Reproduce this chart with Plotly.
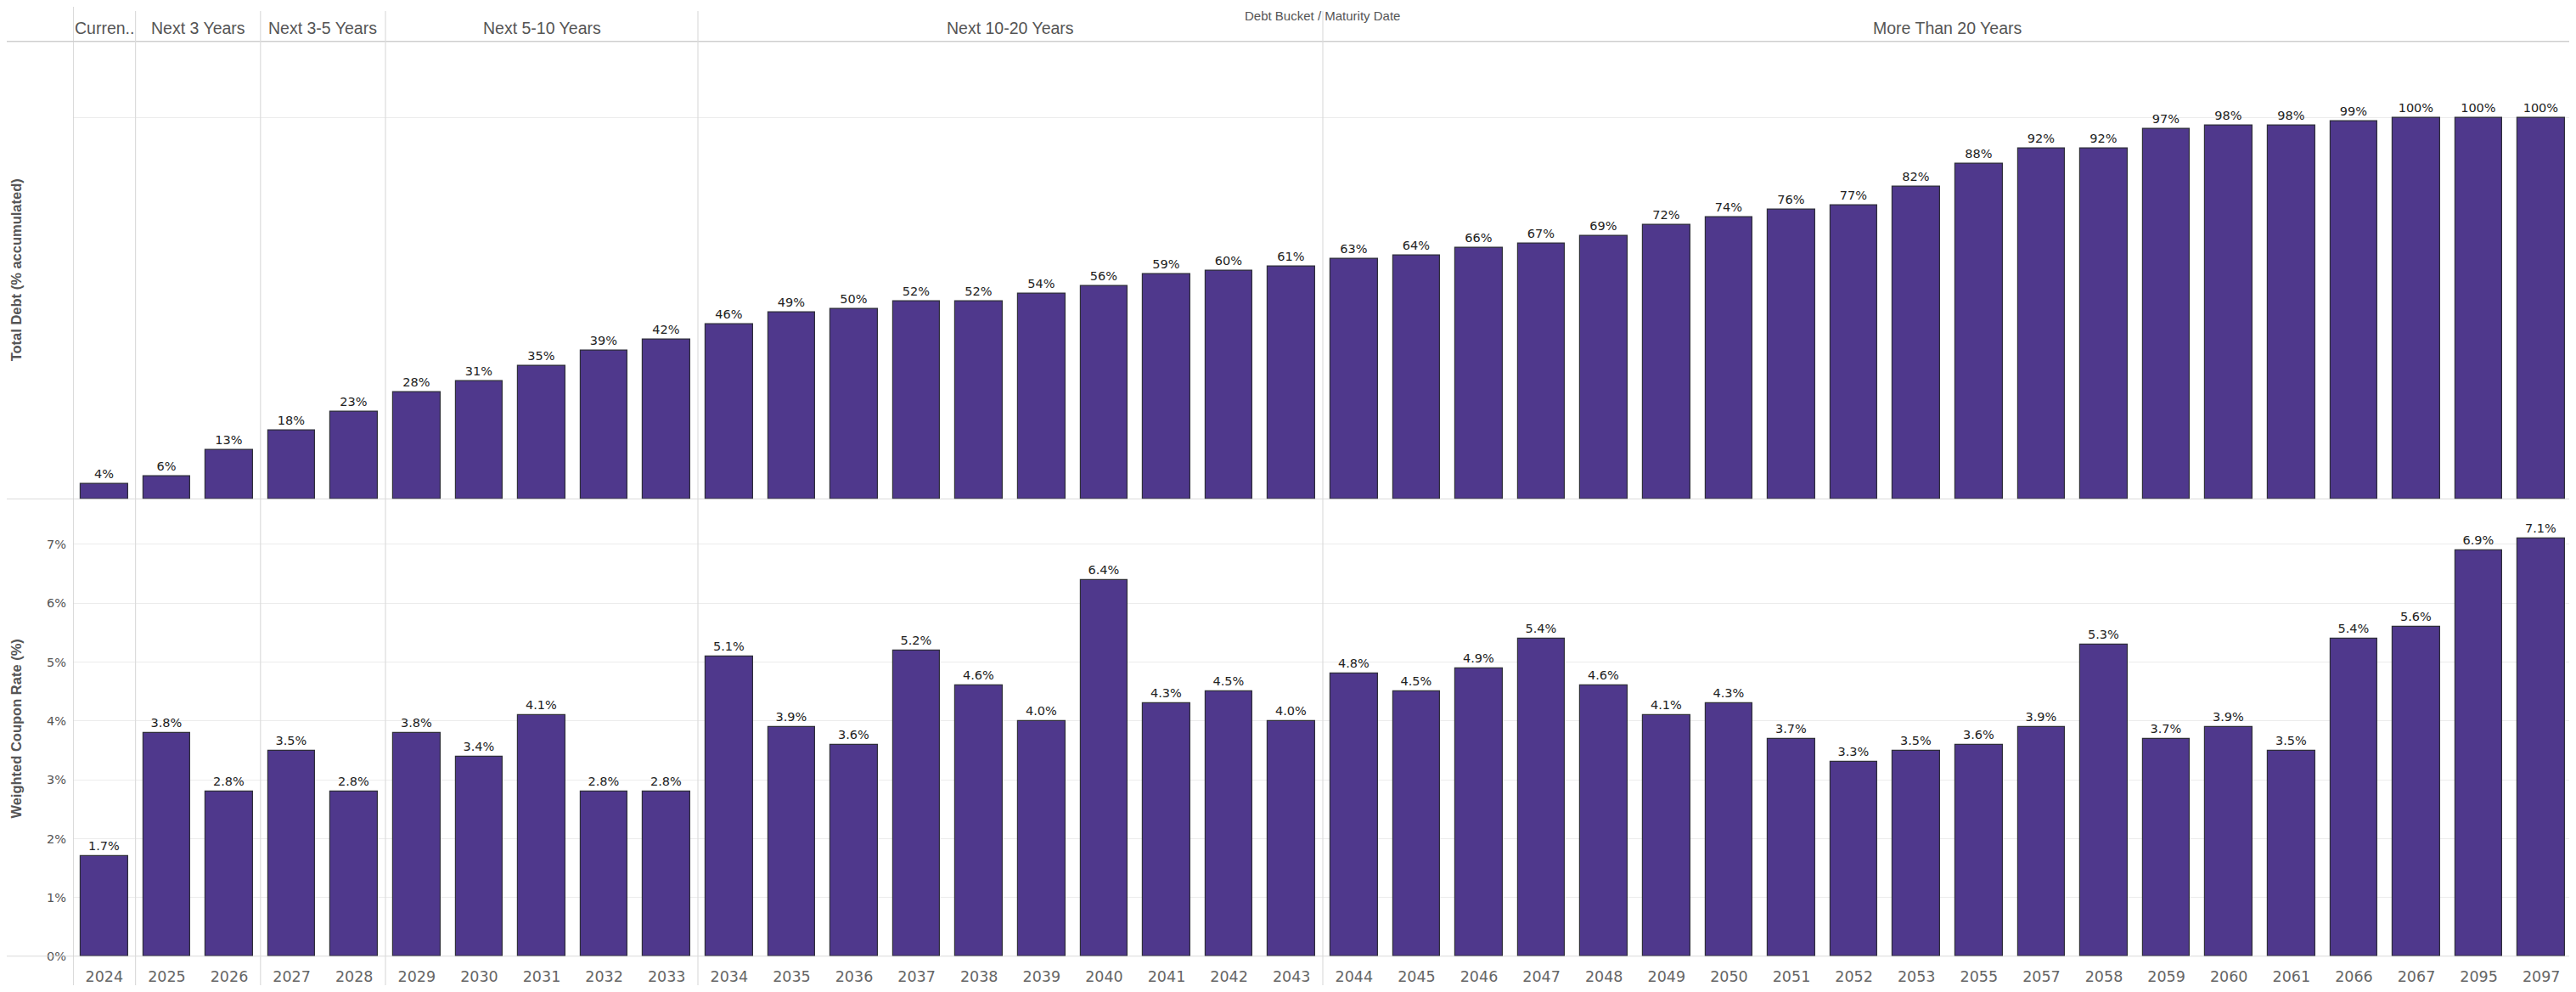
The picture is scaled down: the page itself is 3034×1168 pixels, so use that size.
import plotly.graph_objects as go

# ---------------- data ----------------
years = ["2024", "2025", "2026", "2027", "2028", "2029", "2030", "2031", "2032", "2033",
         "2034", "2035", "2036", "2037", "2038", "2039", "2040", "2041", "2042", "2043",
         "2044", "2045", "2046", "2047", "2048", "2049", "2050", "2051", "2052", "2053",
         "2055", "2057", "2058", "2059", "2060", "2061", "2066", "2067", "2095", "2097"]

total_debt_accum = [4, 6, 13, 18, 23, 28, 31, 35, 39, 42,
                    46, 49, 50, 52, 52, 54, 56, 59, 60, 61,
                    63, 64, 66, 67, 69, 72, 74, 76, 77, 82,
                    88, 92, 92, 97, 98, 98, 99, 100, 100, 100]

coupon_rate = [1.7, 3.8, 2.8, 3.5, 2.8, 3.8, 3.4, 4.1, 2.8, 2.8,
               5.1, 3.9, 3.6, 5.2, 4.6, 4.0, 6.4, 4.3, 4.5, 4.0,
               4.8, 4.5, 4.9, 5.4, 4.6, 4.1, 4.3, 3.7, 3.3, 3.5,
               3.6, 3.9, 5.3, 3.7, 3.9, 3.5, 5.4, 5.6, 6.9, 7.1]

bucket_names = ["Curren..", "Next 3 Years", "Next 3-5 Years", "Next 5-10 Years",
                "Next 10-20 Years", "More Than 20 Years"]
bucket_sizes = [1, 2, 2, 5, 10, 20]

top_title = "Debt Bucket / Maturity Date"
y1_title = "Total Debt (% accumulated)"
y2_title = "Weighted Coupon Rate (%)"

# ---------------- style ----------------
PAGE_W, PAGE_H = 3034, 1168
OFF = 8                       # default body margin of the html page
W, H = PAGE_W - OFF, PAGE_H - OFF
BAR = "#4F388C"
EDGE = "#2f2f3a"
SEP = "#cfcfcf"
GRID = "#ececec"
LBL_FONT = "DejaVu Sans, Verdana, sans-serif"
HDR_FONT = "Liberation Sans, Arial, sans-serif"


def px_x(px):
    return (px - OFF) / W


def py(px):
    return 1 - (px - OFF) / H


x_dom = [px_x(86), px_x(3030)]
top_dom = [py(592), py(49)]
bot_dom = [py(1134), py(595)]

xs = list(range(len(years)))

fig = go.Figure()
fig.add_trace(go.Bar(
    x=xs, y=total_debt_accum, xaxis="x", yaxis="y",
    marker=dict(color=BAR, line=dict(color=EDGE, width=1.2)),
    width=0.757,
    texttemplate="%{y:.0f}%", textposition="outside", cliponaxis=False,
    textfont=dict(family=LBL_FONT, size=14.5, color="#222"),
    hoverinfo="skip", showlegend=False,
))
fig.add_trace(go.Bar(
    x=xs, y=coupon_rate, xaxis="x2", yaxis="y2",
    marker=dict(color=BAR, line=dict(color=EDGE, width=1.2)),
    width=0.757,
    texttemplate="%{y:.1f}%", textposition="outside", cliponaxis=False,
    textfont=dict(family=LBL_FONT, size=14.5, color="#222"),
    hoverinfo="skip", showlegend=False,
))

xr = [-0.5, len(years) - 0.5]
fig.update_layout(
    width=W, height=H,
    margin=dict(l=0, r=0, t=0, b=0),
    paper_bgcolor="white", plot_bgcolor="white",
    bargap=0,
    xaxis=dict(domain=x_dom, range=xr, anchor="y", showticklabels=False,
               showgrid=False, zeroline=False, showline=False, fixedrange=True),
    yaxis=dict(domain=top_dom, range=[0, 120], tickvals=[0, 100], showticklabels=False,
               showgrid=True, gridcolor=GRID, gridwidth=1, zeroline=False, showline=False),
    xaxis2=dict(domain=x_dom, range=xr, anchor="y2", tickmode="array",
                tickvals=xs, ticktext=years, showgrid=False, zeroline=False, showline=False,
                ticks="outside", ticklen=8, tickcolor="rgba(0,0,0,0)",
                tickfont=dict(family=LBL_FONT, size=17.5, color="#666")),
    yaxis2=dict(domain=bot_dom, range=[0, 7.72], tickvals=[0, 1, 2, 3, 4, 5, 6, 7],
                ticktext=["0%", "1%", "2%", "3%", "4%", "5%", "6%", "7%"],
                showgrid=True, gridcolor=GRID, gridwidth=1, zeroline=False, showline=False,
                ticks="outside", ticklen=4, tickcolor="rgba(0,0,0,0)",
                tickfont=dict(family=LBL_FONT, size=14.5, color="#555")),
)

shapes = []
# horizontal rules: header line, top baseline, bottom baseline (full width)
shapes.append(dict(type="line", xref="paper", yref="paper", x0=0, x1=1,
                   y0=top_dom[1], y1=top_dom[1], line=dict(color=SEP, width=1.5)))
shapes.append(dict(type="line", xref="paper", yref="y", x0=0, x1=1,
                   y0=0, y1=0, line=dict(color=SEP, width=1.5)))
shapes.append(dict(type="line", xref="paper", yref="y2", x0=0, x1=1,
                   y0=0, y1=0, line=dict(color=SEP, width=1.5)))
# left axis line
shapes.append(dict(type="line", xref="x", yref="paper", x0=-0.5, x1=-0.5,
                   y0=0, y1=1, line=dict(color=SEP, width=1.5)))
# group separators + header labels
annotations = []
start = 0
for name, n in zip(bucket_names, bucket_sizes):
    end = start + n
    center = (start + end - 1) / 2
    annotations.append(dict(text=name, xref="x", yref="paper", x=center, y=py(33),
                            showarrow=False, xanchor="center", yanchor="middle",
                            font=dict(family=HDR_FONT, size=19.5, color="#555")))
    if end < len(years):
        shapes.append(dict(type="line", xref="x", yref="paper", x0=end - 0.5, x1=end - 0.5,
                           y0=0, y1=py(13), line=dict(color="#dcdcdc", width=1.2)))
    start = end

annotations.append(dict(text=top_title, xref="paper", yref="paper",
                        x=(x_dom[0] + x_dom[1]) / 2, y=1, showarrow=False,
                        xanchor="center", yanchor="top",
                        font=dict(family=HDR_FONT, size=15, color="#555")))
annotations.append(dict(text="<b>" + y1_title + "</b>", xref="paper", yref="paper",
                        x=px_x(19), y=(top_dom[0] + top_dom[1]) / 2, textangle=-90,
                        showarrow=False, xanchor="center", yanchor="middle",
                        font=dict(family=HDR_FONT, size=16.5, color="#555")))
annotations.append(dict(text="<b>" + y2_title + "</b>", xref="paper", yref="paper",
                        x=px_x(19), y=(bot_dom[0] + bot_dom[1]) / 2, textangle=-90,
                        showarrow=False, xanchor="center", yanchor="middle",
                        font=dict(family=HDR_FONT, size=16.5, color="#555")))

fig.update_layout(shapes=shapes, annotations=annotations)
fig.write_html("out.html")
